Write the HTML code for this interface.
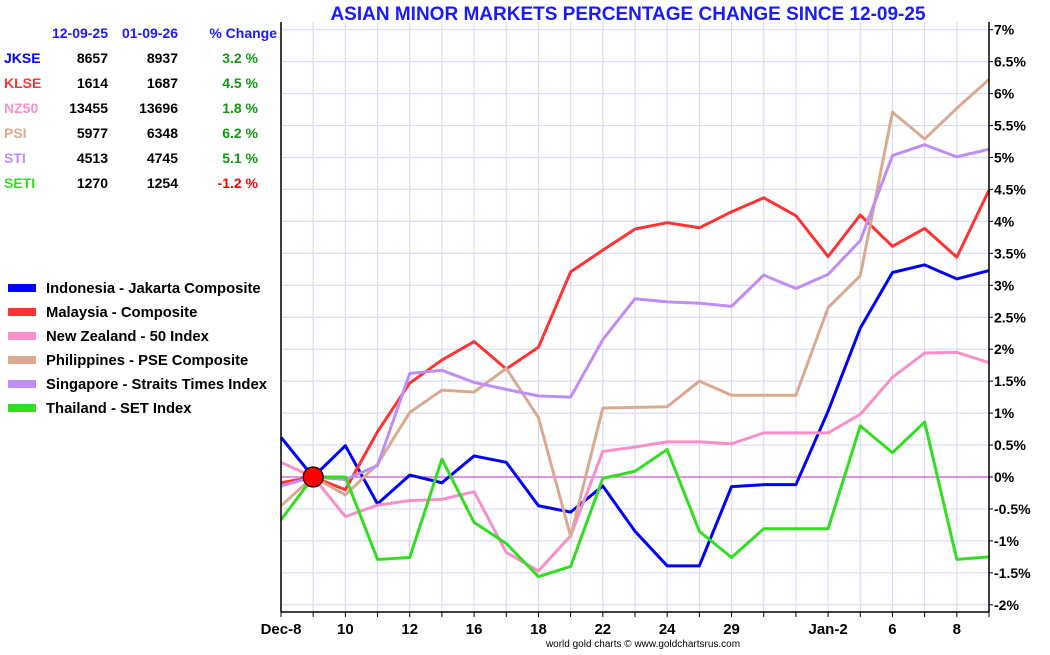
<!DOCTYPE html>
<html><head><meta charset="utf-8"><style>
body{margin:0;background:#fff;width:1050px;height:650px;overflow:hidden;font-family:"Liberation Sans",sans-serif}
svg text{font-family:"Liberation Sans",sans-serif}
</style></head><body>
<svg id="chart" width="1050" height="650" viewBox="0 0 1050 650" xmlns="http://www.w3.org/2000/svg">
<rect width="1050" height="650" fill="#fff"/>
<text x="628" y="20" text-anchor="middle" font-size="19" font-weight="bold" fill="#1a1aff">ASIAN MINOR MARKETS PERCENTAGE CHANGE SINCE 12-09-25</text>
<g id="grid"></g><g id="series"></g><g id="axes"></g><g id="table"></g><g id="legend"></g>
<text x="643" y="647" text-anchor="middle" font-size="10" fill="#000">world gold charts © www.goldchartsrus.com</text>
</svg>
<script>
const dates=["Dec-8","9","10","11","12","15","16","17","18","19","22","23","24","26","29","30","31","Jan-2","5","6","7","8","9"];
const shownLabels=["Dec-8","10","12","16","18","22","24","29","Jan-2","6","8"];
const yTicks=[-2,-1.5,-1,-0.5,0,0.5,1,1.5,2,2.5,3,3.5,4,4.5,5,5.5,6,6.5,7];
const jkse=[0.62,0,0.49,-0.42,0.03,-0.09,0.33,0.23,-0.45,-0.55,-0.14,-0.85,-1.39,-1.39,-0.15,-0.12,-0.12,1.03,2.33,3.2,3.32,3.1,3.23];
const klse=[-0.09,0,-0.2,0.71,1.47,1.83,2.12,1.69,2.03,3.21,3.55,3.88,3.98,3.9,4.15,4.37,4.09,3.45,4.1,3.61,3.89,3.44,4.49];
const nz50=[0.23,0,-0.62,-0.44,-0.37,-0.35,-0.23,-1.18,-1.47,-0.92,0.4,0.47,0.55,0.55,0.52,0.69,0.69,0.69,0.98,1.56,1.94,1.95,1.79];
const psi=[-0.45,0,-0.28,0.2,1.01,1.36,1.33,1.7,0.93,-0.93,1.08,1.09,1.1,1.5,1.28,1.28,1.28,2.65,3.15,5.71,5.29,5.77,6.22];
const sti=[-0.14,0,-0.04,0.18,1.62,1.67,1.48,1.37,1.27,1.25,2.15,2.79,2.74,2.72,2.67,3.16,2.95,3.17,3.7,5.03,5.2,5.01,5.13];
const seti=[-0.67,0,0,-1.29,-1.26,0.28,-0.71,-1.04,-1.56,-1.4,-0.02,0.09,0.43,-0.85,-1.26,-0.81,-0.81,-0.81,0.8,0.38,0.86,-1.29,-1.25];
const tickers=["JKSE","KLSE","NZ50","PSI","STI","SETI"];
const startVals=["8657","1614","13455","5977","4513","1270"];
const endVals=["8937","1687","13696","6348","4745","1254"];
const pctVals=["3.2 %","4.5 %","1.8 %","6.2 %","5.1 %","-1.2 %"];
const legendNames=["Indonesia - Jakarta Composite","Malaysia - Composite","New Zealand - 50 Index","Philippines - PSE Composite","Singapore - Straits Times Index","Thailand - SET Index"];
const colors=["#0000ff","#ff3333","#f78fc8","#d9aa90","#c08cf5","#33dd22"];
const allSeries=[jkse,klse,nz50,psi,sti,seti];
const NS="http://www.w3.org/2000/svg";
const L=281,R=989,T=22,B=612;
const X=i=>L+(R-L)*i/(dates.length-1);
const Y=v=>477-v*63.9;
function mk(tag,attrs,parent,txt){const e=document.createElementNS(NS,tag);for(const k in attrs)e.setAttribute(k,attrs[k]);if(txt!==undefined)e.textContent=txt;parent.appendChild(e);return e;}
const grid=document.getElementById('grid'),ser=document.getElementById('series'),ax=document.getElementById('axes'),tb=document.getElementById('table'),lg=document.getElementById('legend');
for(let i=0;i<dates.length;i++){const l=mk('line',{x1:X(i),x2:X(i),y1:T,y2:B,stroke:'#dadaf6','stroke-width':1.2},grid);

}
yTicks.forEach(v=>{const l=mk('line',{x1:L,x2:R,y1:Y(v),y2:Y(v),stroke:'#dadaf6','stroke-width':1.2},grid);


const t=mk('text',{x:R+5,y:Y(v)+5,'font-size':14,'font-weight':'bold',fill:'#000'},ax,v+'%');


mk('line',{x1:R,x2:R+4,y1:Y(v),y2:Y(v),stroke:'#000'},ax);});
const z=mk('line',{x1:L,x2:R,y1:Y(0),y2:Y(0),stroke:'#cc33cc','stroke-width':1},grid);


allSeries.forEach((s,k)=>{const p=mk('polyline',{points:s.map((v,i)=>X(i)+','+Y(v)).join(' '),fill:'none',stroke:colors[k],'stroke-width':3,'stroke-linejoin':'round'},ser);

});
const dot=mk('circle',{cx:X(1),cy:Y(0),r:10,fill:'#ff0000',stroke:'#000','stroke-width':1.2},ser);


mk('line',{x1:L,x2:L,y1:T,y2:B,stroke:'#000','stroke-width':1.5},ax);
mk('line',{x1:R,x2:R,y1:T,y2:B,stroke:'#000','stroke-width':1.5},ax);
mk('line',{x1:L,x2:R,y1:B,y2:B,stroke:'#000','stroke-width':1.5},ax);
dates.forEach((d,i)=>{mk('line',{x1:X(i),x2:X(i),y1:B,y2:B+5,stroke:'#000'},ax);
if(shownLabels.includes(d)){const t=mk('text',{x:X(i),y:634,'text-anchor':'middle','font-size':15,'font-weight':'bold',fill:'#000'},ax,d);

}});
[["12-09-25",108],["01-09-26",178],["% Change",277]].forEach(h=>{const t=mk('text',{x:h[1],y:38,'text-anchor':'end','font-size':14,'font-weight':'bold',fill:'#1a1aff'},tb,h[0]);

});
tickers.forEach((tk,r)=>{const y=63+r*25;
const a=mk('text',{x:4,y:y,'font-size':14,'font-weight':'bold',fill:colors[r]},tb,tk);


const b=mk('text',{x:108,y:y,'text-anchor':'end','font-size':14,'font-weight':'bold',fill:'#000'},tb,startVals[r]);


const c=mk('text',{x:178,y:y,'text-anchor':'end','font-size':14,'font-weight':'bold',fill:'#000'},tb,endVals[r]);


const d=mk('text',{x:258,y:y,'text-anchor':'end','font-size':14,'font-weight':'bold',fill:pctVals[r].startsWith('-')?'#ff0000':'#119911'},tb,pctVals[r]);

});
legendNames.forEach((n,r)=>{const y=288+r*24;
const g=mk('g',{},lg);


mk('rect',{x:8,y:y-4,width:28,height:8,fill:colors[r]},g);
mk('text',{x:46,y:y+5,'font-size':14.8,'font-weight':'bold',fill:'#000'},g,n);});
</script>
</body></html>
